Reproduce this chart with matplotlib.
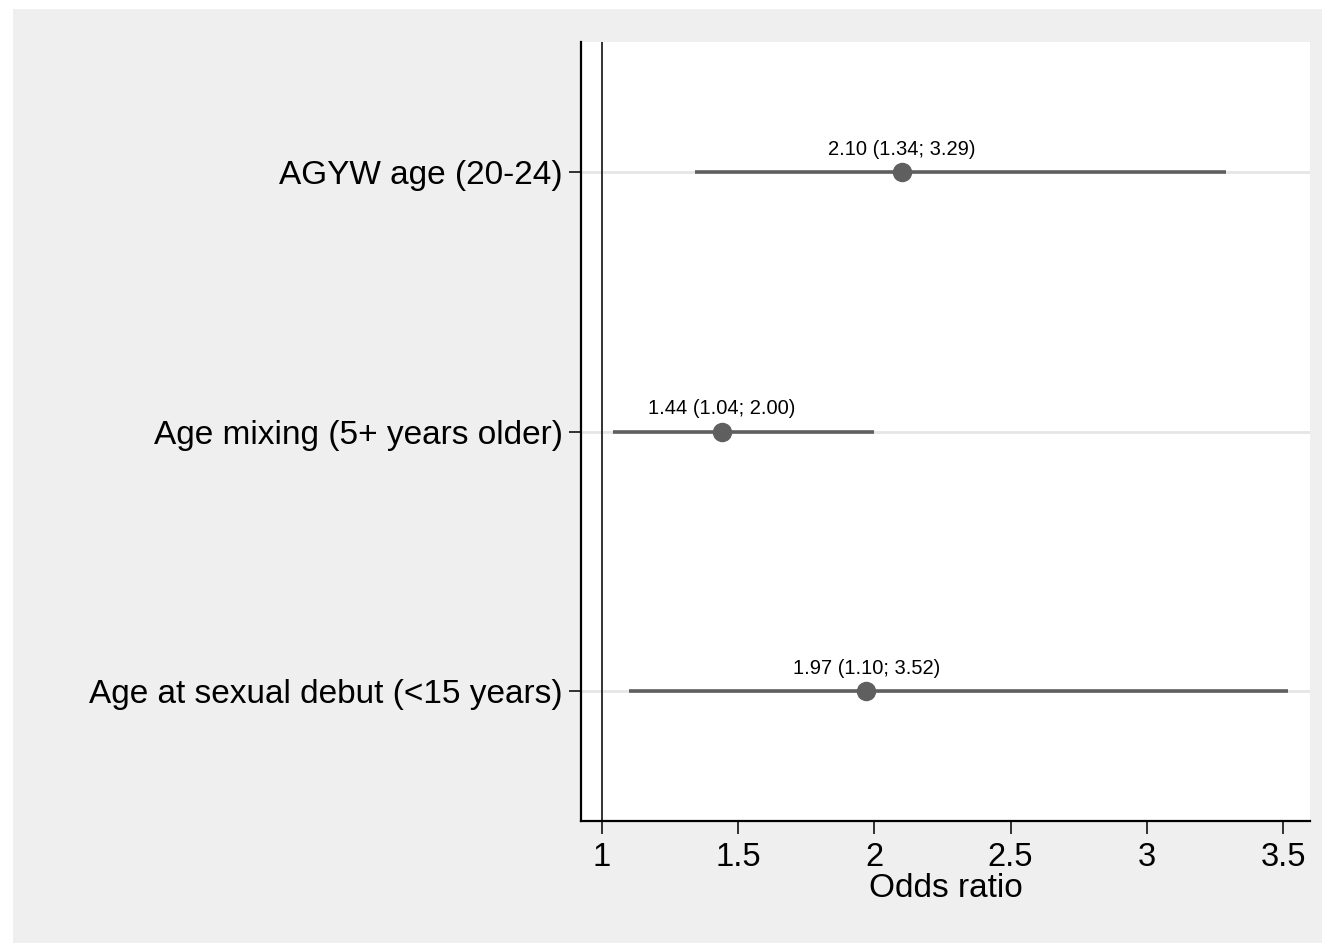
import matplotlib
matplotlib.use("Agg")
import matplotlib.pyplot as plt
from matplotlib.patches import Rectangle

plt.rcParams['font.family'] = ['Liberation Sans', 'DejaVu Sans']

categories = ["AGYW age (20-24)", "Age mixing (5+ years older)", "Age at sexual debut (<15 years)"]
odds = [2.10, 1.44, 1.97]
lower = [1.34, 1.04, 1.10]
upper = [3.29, 2.00, 3.52]
xticks = [1, 1.5, 2, 2.5, 3, 3.5]
xticklabels = ["1", "1.5", "2", "2.5", "3", "3.5"]

W, H = 1322, 943
fig = plt.figure(figsize=(W / 100, H / 100), dpi=100, facecolor='white')
fig.add_artist(Rectangle((13 / W, 0), 1 - 13 / W, 1 - 9 / H, transform=fig.transFigure,
                         facecolor='#efefef', edgecolor='none', zorder=-10))

ax = fig.add_axes([581 / W, 1 - 821 / H, (1310 - 581) / W, (821 - 42) / H])
ax.set_facecolor('white')

n = len(categories)
ypos = list(range(n, 0, -1))

for y in ypos:
    ax.axhline(y, color='#e6e6e6', lw=2, zorder=1)
ax.axvline(1, color='#222222', lw=1.3, zorder=2)

for y, o, lo, hi in zip(ypos, odds, lower, upper):
    ax.plot([lo, hi], [y, y], color='#5f5f5f', lw=2.6, solid_capstyle='butt', zorder=3)
    ax.plot([o], [y], 'o', color='#5f5f5f', markersize=13, zorder=4)
    ax.annotate(f"{o:.2f} ({lo:.2f}; {hi:.2f})", xy=(o, y), xytext=(0, 9.5),
                textcoords='offset points', ha='center', va='bottom',
                fontsize=14.5, color='black', zorder=5)

ax.set_xlim(0.923, 3.599)
ax.set_ylim(0.5, 3.5)
ax.set_yticks(ypos)
ax.set_yticklabels(categories, fontsize=24)
ax.set_xticks(xticks)
ax.set_xticklabels(xticklabels, fontsize=23.5)
ax.set_xlabel("Odds ratio", fontsize=24, labelpad=0)

for s in ['top', 'right']:
    ax.spines[s].set_visible(False)
for s in ['left', 'bottom']:
    ax.spines[s].set_linewidth(1.6)
    ax.spines[s].set_color('black')
ax.tick_params(axis='both', direction='out', length=9, width=1.3, color='#222222')
ax.tick_params(axis='x', pad=6)
ax.tick_params(axis='y', pad=4)

fig.savefig("out.png", dpi=100, facecolor=fig.get_facecolor())
